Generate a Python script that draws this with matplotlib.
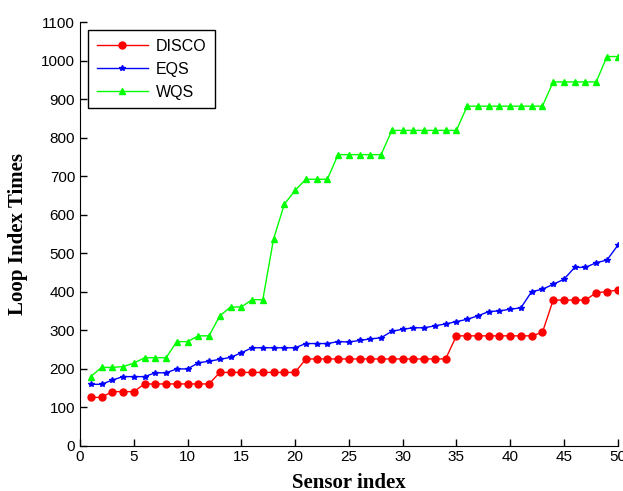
import matplotlib.pyplot as plt
import numpy as np

sensor_index = np.arange(1, 51)

disco = [125, 125, 140, 140, 140, 160, 160, 160, 160, 160,
         160, 160, 190, 190, 190, 190, 190, 190, 190, 190,
         225, 225, 225, 225, 225, 225, 225, 225, 225, 225,
         225, 225, 225, 225, 285, 285, 285, 285, 285, 285,
         285, 285, 294, 378, 378, 378, 378, 397, 400, 404]

eqs = [159, 159, 170, 179, 179, 179, 189, 189, 199, 199,
       215, 219, 224, 229, 241, 254, 254, 254, 254, 254,
       265, 265, 265, 270, 269, 273, 277, 280, 297, 302,
       306, 306, 311, 316, 322, 328, 337, 348, 350, 354,
       358, 400, 406, 419, 432, 463, 463, 475, 482, 520]

wqs = [179, 203, 203, 205, 214, 228, 228, 228, 270, 270,
       285, 285, 337, 360, 360, 379, 379, 537, 627, 663,
       692, 692, 692, 756, 756, 756, 756, 756, 819, 819,
       819, 819, 819, 819, 819, 882, 882, 882, 882, 882,
       882, 882, 882, 945, 945, 945, 945, 945, 1011, 1011]

fig = plt.figure(figsize=(6.23, 4.91), dpi=100)
ax = fig.add_axes([80 / 623, 1 - 445.5 / 491, 537.7 / 623, 423.2 / 491])

ax.plot(sensor_index, disco, color="#ff0000", marker="o", markersize=5, linewidth=1, label="DISCO")
ax.plot(sensor_index, eqs, color="#0000ff", marker="*", markersize=4, linewidth=1, label="EQS")
ax.plot(sensor_index, wqs, color="#00ff00", marker="^", markersize=4.5, linewidth=1, label="WQS")

ax.set_xlim(0, 50)
ax.set_ylim(0, 1100)
ax.set_xticks(np.arange(0, 51, 5))
ax.set_yticks(np.arange(0, 1101, 100))
ax.tick_params(direction="in", length=5, width=1, labelsize=11, colors="black")
for lbl in ax.get_xticklabels() + ax.get_yticklabels():
    lbl.set_family("Liberation Sans")

ax.spines["top"].set_visible(False)
ax.spines["right"].set_visible(False)

ax.set_xlabel("Sensor index", family="Liberation Serif", fontweight="bold", fontsize=15, labelpad=6.5)
ax.set_ylabel("Loop Index Times", family="Liberation Serif", fontweight="bold", fontsize=15)
ax.yaxis.set_label_coords(-0.097, 0.5)

leg = ax.legend(loc="upper left", bbox_to_anchor=(0.015, 0.982), borderaxespad=0,
                prop={"family": "Liberation Sans", "size": 11.5},
                fancybox=False, edgecolor="black", framealpha=1, handlelength=3.2, borderpad=0.55,
                labelspacing=0.5, handletextpad=0.5)
leg.get_frame().set_linewidth(1)

fig.savefig("out.png", dpi=100)
